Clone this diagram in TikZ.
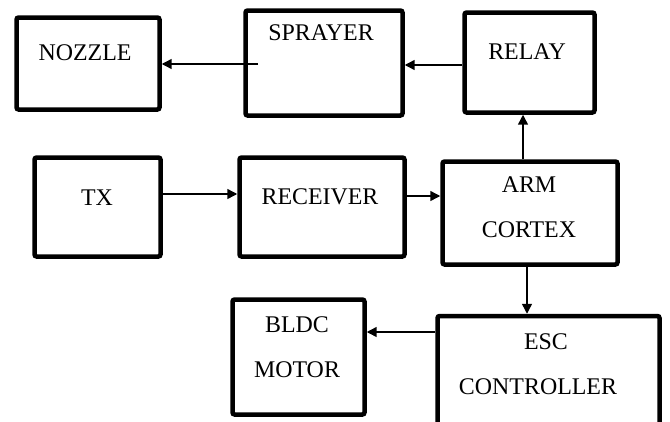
\documentclass[tikz,border=0pt]{standalone}
\usepackage{fontspec}
\setmainfont{Liberation Serif}
\usepackage{tikz}
\usetikzlibrary{arrows.meta}
\usetikzlibrary{positioning}

\begin{document}
\begin{tikzpicture}[x=0.025cm, y=-0.025cm,
    blk/.style={draw, line width=3.2pt, rounded corners=1.5pt, inner sep=0pt},
    lbl/.style={font=\fontsize{17}{20}\selectfont},
    conn/.style={line width=1pt, -{Triangle[length=7pt, width=7pt]}}]
    \useasboundingbox (0,0) rectangle (670,421);
    \clip (0,0) rectangle (670,421);
    % blocks
    \node[blk, minimum width=143*0.025cm, minimum height=92*0.025cm] (nozzle) at (88,63.5) {};
    \node[blk, minimum width=157*0.025cm, minimum height=105*0.025cm] (sprayer) at (324,63) {};
    \node[blk, minimum width=130*0.025cm, minimum height=100*0.025cm] (relay) at (529.5,62.5) {};
    \node[blk, minimum width=126*0.025cm, minimum height=99*0.025cm] (tx) at (97.5,207) {};
    \node[blk, minimum width=165*0.025cm, minimum height=99*0.025cm] (receiver) at (322,207) {};
    \node[blk, minimum width=175*0.025cm, minimum height=103*0.025cm] (arm) at (530,213) {};
    \node[blk, minimum width=222*0.025cm, minimum height=126*0.025cm] (esc) at (548.5,379) {};
    \node[blk, minimum width=132*0.025cm, minimum height=115*0.025cm] (bldc) at (298.5,357) {};
    % texts
    \node[lbl] (nozzletxt) at (85,53) {NOZZLE};
    \node[lbl] (sprayertxt) at (321,33) {SPRAYER};
    \node[lbl] (relaytxt) at (527,52) {RELAY};
    \node[lbl] (txtxt) at (97,198) {TX};
    \node[lbl] (receivertxt) at (320,197) {RECEIVER};
    \node[lbl] (armtxt) at (529,185) {ARM};
    \node[lbl] (cortextxt) at (529,230) {CORTEX};
    \node[lbl] (bldctxt) at (297,325) {BLDC};
    \node[lbl] (motortxt) at (297,370) {MOTOR};
    \node[lbl] (esctxt) at (546,342) {ESC};
    \node[lbl] (controllertxt) at (538,387) {CONTROLLER};
    % connectors
    \coordinate (sprayout) at (258,64);
    \draw[conn] (sprayout) -- (nozzle.east |- sprayout);
    \draw[conn] (relay.west |- 0,65) -- (sprayer.east |- 0,65);
    \draw[conn] (arm.north -| 523,0) -- (relay.south -| 523,0);
    \draw[conn] (tx.east |- 0,194) -- (receiver.west |- 0,194);
    \draw[conn] (receiver.east |- 0,196) -- (arm.west |- 0,196);
    \draw[conn] (arm.south -| 527,0) -- (esc.north -| 527,0);
    \draw[conn] (esc.west |- 0,332) -- (bldc.east |- 0,332);
\end{tikzpicture}
\end{document}
